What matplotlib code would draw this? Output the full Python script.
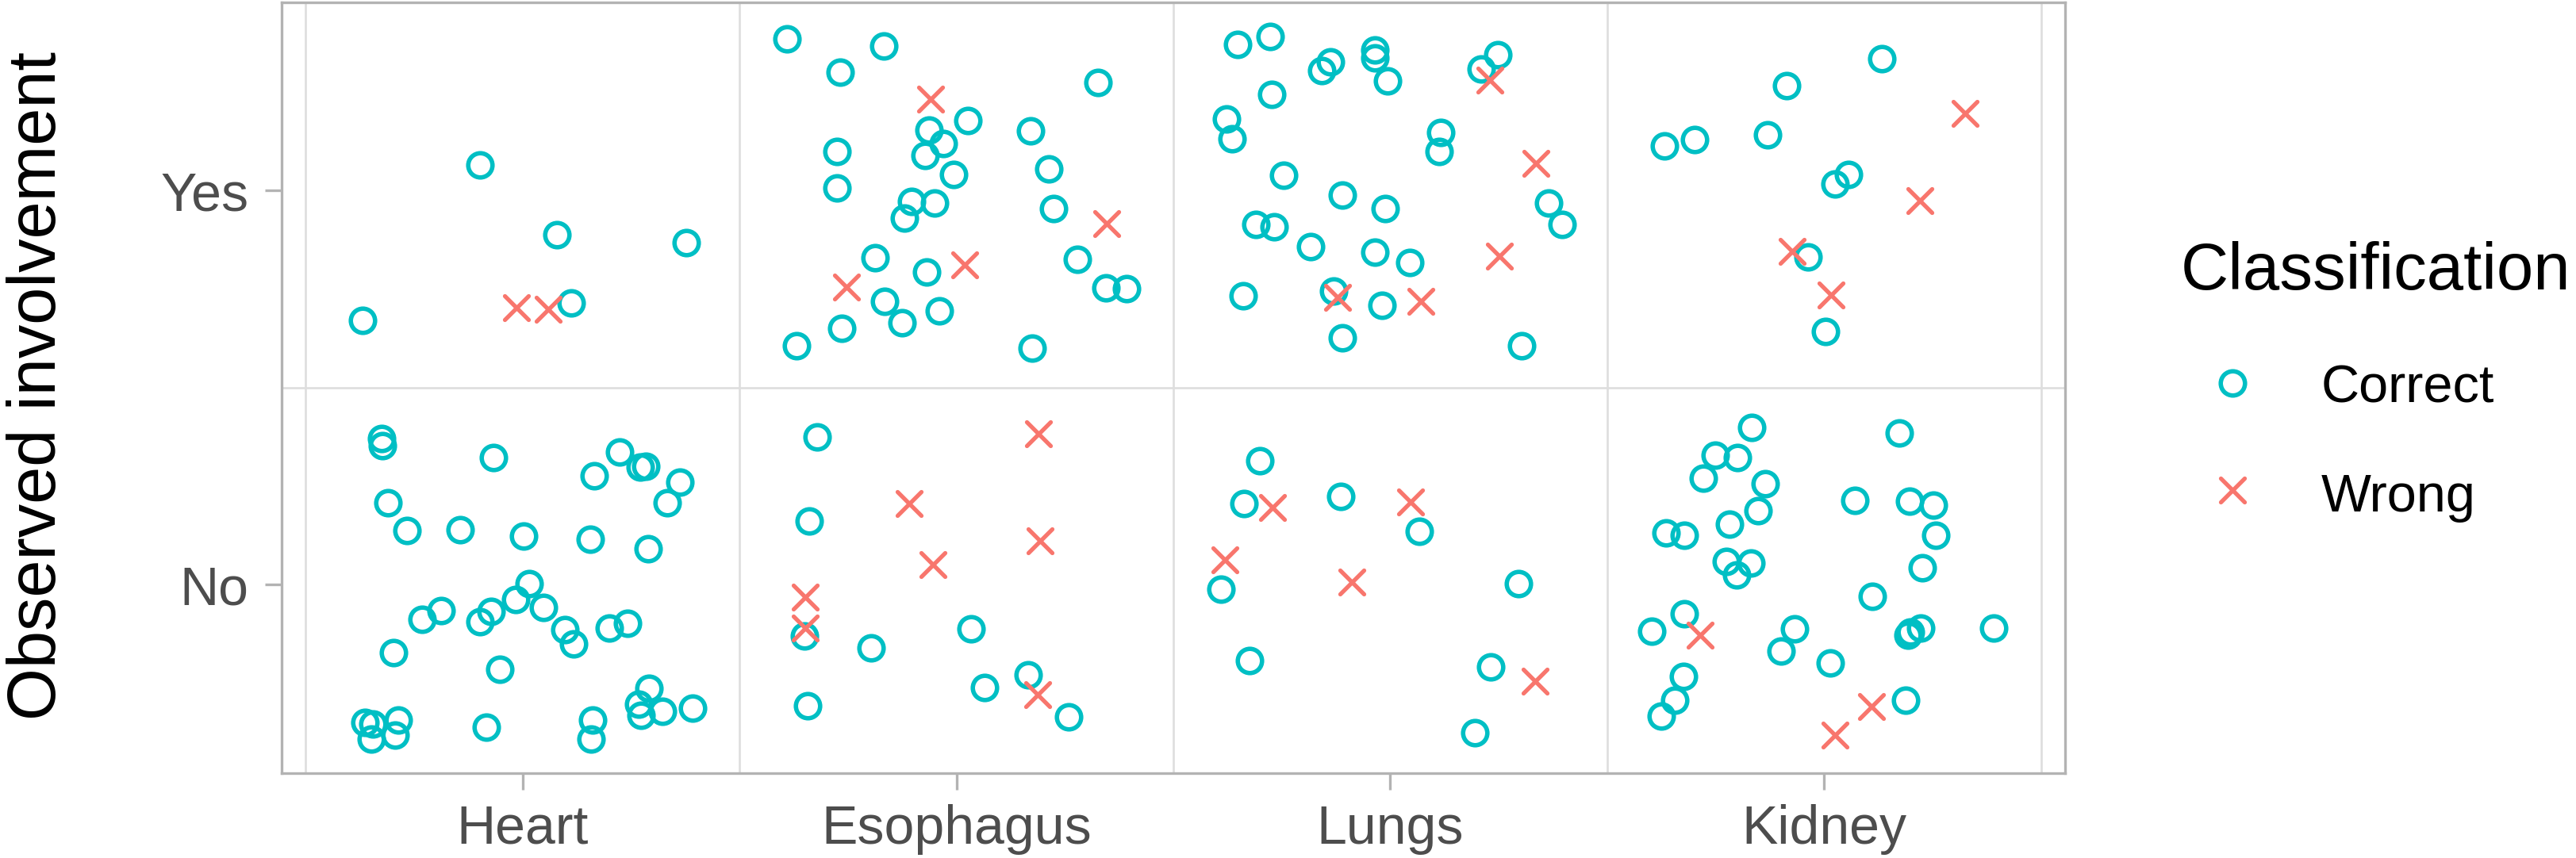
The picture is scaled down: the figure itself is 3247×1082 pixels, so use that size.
import matplotlib
matplotlib.use("Agg")
import matplotlib.pyplot as plt
from matplotlib.lines import Line2D
from matplotlib.markers import MarkerStyle

plt.rcParams['font.family'] = ['Liberation Sans', 'DejaVu Sans']

# ---------------- data ----------------
categories = ["Heart", "Esophagus", "Lungs", "Kidney"]
levels = ["No", "Yes"]            # y positions 1, 2
classes = ["Correct", "Wrong"]
class_colors = {"Correct": "#00BFC4", "Wrong": "#F8766D"}

# jitter offsets (dx from category centre, dy from level)
heart_yes_correct_dx = [-0.098, 0.080, 0.378, 0.112, -0.369]
heart_yes_correct_dy = [0.066, -0.111, -0.132, -0.285, -0.329]
heart_yes_wrong_dx = [-0.014, 0.060]
heart_yes_wrong_dy = [-0.298, -0.302]
heart_no_correct_dx = [-0.324, -0.322, -0.066, 0.224, 0.166, 0.272, 0.285, 0.362, 0.333, -0.310,
                       -0.266, -0.144, 0.002, 0.156, 0.289, 0.015, -0.015, 0.049, -0.073, -0.098,
                       -0.188, -0.231, 0.098, 0.118, 0.200, 0.242, -0.298, -0.053, 0.291, 0.268,
                       0.273, 0.323, 0.392, 0.161, 0.158, -0.083, -0.363, -0.345, -0.349, -0.286,
                       -0.293]
heart_no_correct_dy = [0.370, 0.352, 0.322, 0.337, 0.277, 0.298, 0.300, 0.260, 0.207, 0.207,
                       0.138, 0.140, 0.122, 0.114, 0.091, 0.002, -0.038, -0.058, -0.068, -0.094,
                       -0.066, -0.088, -0.114, -0.151, -0.111, -0.098, -0.173, -0.216, -0.264, -0.303,
                       -0.332, -0.321, -0.314, -0.345, -0.392, -0.362, -0.350, -0.354, -0.392, -0.344,
                       -0.382]
heart_no_wrong_dx = []
heart_no_wrong_dy = []

esophagus_yes_correct_dx = [-0.390, -0.167, -0.267, 0.327, 0.027, -0.064, -0.031, -0.073, 0.170, -0.276,
                            -0.276, -0.007, 0.213, -0.104, -0.050, -0.119, 0.224, -0.188, -0.068, 0.278,
                            0.344, 0.392, -0.166, -0.126, -0.039, -0.265, -0.369, 0.174]
esophagus_yes_correct_dy = [0.385, 0.368, 0.301, 0.274, 0.178, 0.154, 0.120, 0.089, 0.151, 0.099,
                            0.007, 0.042, 0.056, -0.028, -0.032, -0.069, -0.046, -0.171, -0.206, -0.174,
                            -0.247, -0.249, -0.281, -0.335, -0.305, -0.349, -0.393, -0.400]
esophagus_yes_wrong_dx = [-0.060, 0.347, 0.019, -0.253]
esophagus_yes_wrong_dy = [0.232, -0.084, -0.188, -0.245]
esophagus_no_correct_dx = [-0.320, -0.340, -0.351, -0.197, 0.033, -0.342, 0.065, 0.166, 0.259]
esophagus_no_correct_dy = [0.374, 0.162, -0.130, -0.160, -0.112, -0.307, -0.262, -0.229, -0.336]
esophagus_no_wrong_dx = [0.190, -0.108, 0.192, -0.054, -0.348, -0.348, 0.188]
esophagus_no_wrong_dy = [0.383, 0.205, 0.110, 0.051, -0.032, -0.111, -0.279]

lungs_yes_correct_dx = [-0.352, -0.277, -0.138, -0.158, -0.036, -0.036, -0.007, 0.247, 0.210, -0.274,
                        -0.378, -0.365, 0.117, 0.112, -0.246, -0.111, -0.012, 0.364, 0.396, -0.309,
                        -0.268, -0.184, -0.035, 0.044, -0.340, -0.131, -0.020, -0.111, 0.303]
lungs_yes_correct_dy = [0.371, 0.392, 0.328, 0.304, 0.358, 0.338, 0.279, 0.345, 0.309, 0.245,
                        0.182, 0.131, 0.148, 0.099, 0.039, -0.012, -0.046, -0.032, -0.086, -0.086,
                        -0.092, -0.143, -0.157, -0.183, -0.266, -0.255, -0.292, -0.373, -0.393]
lungs_yes_wrong_dx = [0.230, 0.336, 0.251, -0.122, 0.070]
lungs_yes_wrong_dy = [0.281, 0.069, -0.166, -0.270, -0.282]
lungs_no_correct_dx = [-0.301, -0.337, -0.114, 0.066, -0.391, 0.295, -0.325, 0.232, 0.195]
lungs_no_correct_dy = [0.315, 0.205, 0.224, 0.135, -0.011, 0.002, -0.193, -0.209, -0.376]
lungs_no_wrong_dx = [-0.272, 0.047, -0.382, -0.089, 0.334]
lungs_no_wrong_dy = [0.195, 0.210, 0.062, 0.007, -0.245]

kidney_yes_correct_dx = [0.133, -0.087, -0.369, -0.299, -0.130, 0.055, 0.025, -0.038, 0.002]
kidney_yes_correct_dy = [0.335, 0.267, 0.113, 0.130, 0.141, 0.042, 0.017, -0.168, -0.358]
kidney_yes_wrong_dx = [0.325, 0.220, -0.074, 0.016]
kidney_yes_wrong_dy = [0.196, -0.026, -0.154, -0.264]
kidney_no_correct_dx = [-0.168, 0.173, -0.252, -0.200, -0.278, -0.137, 0.071, 0.196, 0.251, -0.153,
                        -0.218, -0.364, -0.323, 0.257, -0.226, -0.169, -0.202, 0.226, 0.110, -0.323,
                        -0.398, -0.068, -0.100, 0.013, 0.193, 0.198, 0.223, 0.391, -0.325, -0.345,
                        -0.376, 0.188]
kidney_no_correct_dy = [0.398, 0.384, 0.328, 0.322, 0.270, 0.256, 0.214, 0.212, 0.201, 0.187,
                        0.154, 0.131, 0.125, 0.125, 0.059, 0.054, 0.024, 0.042, -0.030, -0.074,
                        -0.119, -0.112, -0.169, -0.199, -0.128, -0.121, -0.110, -0.110, -0.233, -0.294,
                        -0.335, -0.294]
kidney_no_wrong_dx = [-0.286, 0.109, 0.025]
kidney_no_wrong_dy = [-0.128, -0.309, -0.382]

groups = {
    "Heart": {("Yes", "Correct"): (heart_yes_correct_dx, heart_yes_correct_dy),
              ("Yes", "Wrong"): (heart_yes_wrong_dx, heart_yes_wrong_dy),
              ("No", "Correct"): (heart_no_correct_dx, heart_no_correct_dy),
              ("No", "Wrong"): (heart_no_wrong_dx, heart_no_wrong_dy)},
    "Esophagus": {("Yes", "Correct"): (esophagus_yes_correct_dx, esophagus_yes_correct_dy),
                  ("Yes", "Wrong"): (esophagus_yes_wrong_dx, esophagus_yes_wrong_dy),
                  ("No", "Correct"): (esophagus_no_correct_dx, esophagus_no_correct_dy),
                  ("No", "Wrong"): (esophagus_no_wrong_dx, esophagus_no_wrong_dy)},
    "Lungs": {("Yes", "Correct"): (lungs_yes_correct_dx, lungs_yes_correct_dy),
              ("Yes", "Wrong"): (lungs_yes_wrong_dx, lungs_yes_wrong_dy),
              ("No", "Correct"): (lungs_no_correct_dx, lungs_no_correct_dy),
              ("No", "Wrong"): (lungs_no_wrong_dx, lungs_no_wrong_dy)},
    "Kidney": {("Yes", "Correct"): (kidney_yes_correct_dx, kidney_yes_correct_dy),
               ("Yes", "Wrong"): (kidney_yes_wrong_dx, kidney_yes_wrong_dy),
               ("No", "Correct"): (kidney_no_correct_dx, kidney_no_correct_dy),
               ("No", "Wrong"): (kidney_no_wrong_dx, kidney_no_wrong_dy)},
}

# ---------------- figure ----------------
DPI = 100
W, H = 3248, 1082
fig = plt.figure(figsize=(W / DPI, H / DPI), dpi=DPI)
fig.patch.set_facecolor("white")

ax_left, ax_right, ax_top, ax_bottom = 355, 2603, 3, 975
ax = fig.add_axes([ax_left / W, 1 - ax_bottom / H, (ax_right - ax_left) / W, (ax_bottom - ax_top) / H])
ax.set_xlim(0.445, 4.555)
ax.set_ylim(0.521, 2.478)

grid_col = "#DEDEDE"
frame_col = "#B3B3B3"
for xv in [0.5, 1.5, 2.5, 3.5, 4.5]:
    ax.axvline(xv, color=grid_col, lw=1.9, zorder=0)
for yv in [0.5, 1.5, 2.5]:
    ax.axhline(yv, color=grid_col, lw=1.9, zorder=0)

marker_size = 22
circle_mew = 4.0
cross_mew = 3.8
cross = MarkerStyle("x", capstyle="round")

for i, cat in enumerate(categories):
    for lvl_i, lvl in enumerate(levels):
        for cls in classes:
            dx, dy = groups[cat][(lvl, cls)]
            if not dx:
                continue
            xs = [i + 1 + d for d in dx]
            ys = [lvl_i + 1 + d for d in dy]
            if cls == "Correct":
                ax.plot(xs, ys, linestyle="none", marker="o", markersize=marker_size,
                        markerfacecolor="none", markeredgecolor=class_colors[cls],
                        markeredgewidth=circle_mew, zorder=3)
            else:
                ax.plot(xs, ys, linestyle="none", marker=cross, markersize=marker_size,
                        color=class_colors[cls], markeredgewidth=cross_mew, zorder=3)

ax.set_xticks(range(1, len(categories) + 1))
ax.set_xticklabels(categories)
ax.set_yticks([1, 2])
ax.set_yticklabels(levels)
ax.tick_params(axis="both", colors=frame_col, labelcolor="#4D4D4D", labelsize=49,
               length=15, width=2.4)
ax.tick_params(axis="x", pad=13)
ax.tick_params(axis="y", pad=15)
for sp in ax.spines.values():
    sp.set_color(frame_col)
    sp.set_linewidth(2.4)

# y axis title
fig.text(70 / W, 1 - 487 / H, "Observed involvement", rotation=90, rotation_mode="anchor",
         ha="center", va="baseline", fontsize=61, color="black")

# legend (drawn manually)
fig.text(2749 / W, 1 - 365 / H, "Classification", fontsize=60, color="black",
         ha="left", va="baseline")
leg_x = 2814 / W
leg_rows = [("Correct", 483, 508), ("Wrong", 618, 645)]
for cls, ym, yb in leg_rows:
    if cls == "Correct":
        fig.add_artist(Line2D([leg_x], [1 - ym / H], transform=fig.transFigure, linestyle="none",
                              marker="o", markersize=marker_size, markerfacecolor="none",
                              markeredgecolor=class_colors[cls], markeredgewidth=circle_mew))
    else:
        fig.add_artist(Line2D([leg_x], [1 - ym / H], transform=fig.transFigure, linestyle="none",
                              marker=cross, markersize=marker_size, color=class_colors[cls],
                              markeredgewidth=cross_mew))
    fig.text(2926 / W, 1 - yb / H, cls, fontsize=48, color="black", ha="left", va="baseline")

fig.savefig("out.png", dpi=DPI, facecolor="white")
